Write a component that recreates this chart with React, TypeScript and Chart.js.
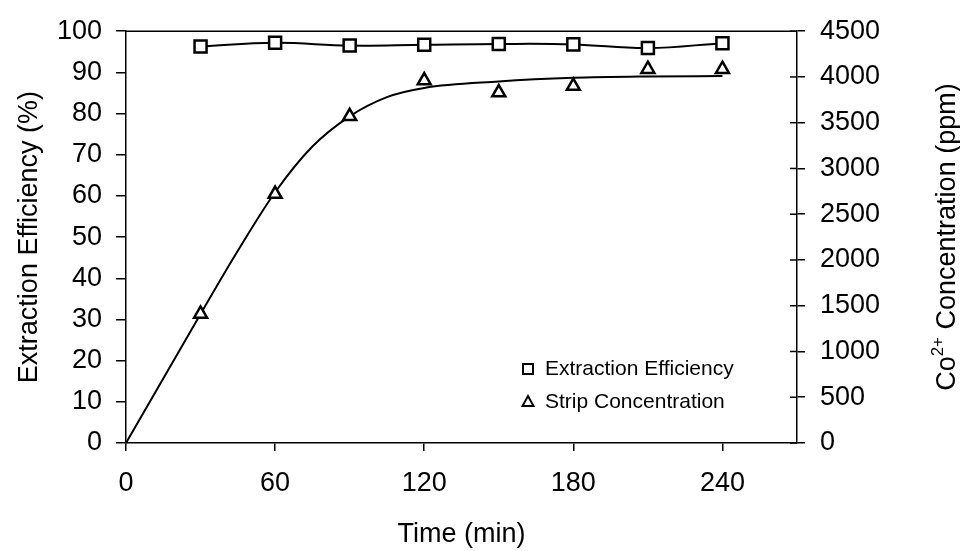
import React, { useEffect, useRef } from 'react';
import { Chart, registerables } from 'chart.js';

Chart.register(...registerables);

// ---- data ----
const timeMinutes = [30, 60, 90, 120, 150, 180, 210, 240];
const extractionEfficiency = [96.3, 97.2, 96.5, 96.7, 96.9, 96.8, 95.9, 97.1];
const stripConcentration = [1410, 2720, 3570, 3960, 3830, 3900, 4085, 4085];
const fitTimes = [0, 30, 45, 60, 75, 90, 105, 120, 150, 180, 210, 240];
const fitConcentration = [0, 1410, 2100, 2740, 3240, 3570, 3780, 3880, 3950, 3990, 4005, 4010];
const seriesLabels = ['Extraction Efficiency', 'Strip Concentration'];
const xTitle = 'Time (min)';
const leftTitle = 'Extraction Efficiency (%)';
const rightTitleParts = ['Co', '2+', ' Concentration (ppm)'];

const FONT = '"Liberation Sans", Arial, sans-serif';

const decorPlugin = {
  id: 'decor',
  afterDraw(chart: any) {
    const { ctx, chartArea } = chart;
    const y2 = chart.scales.y2;
    ctx.save();
    ctx.strokeStyle = '#000';
    ctx.lineWidth = 1.5;
    // top frame line
    ctx.beginPath();
    ctx.moveTo(chartArea.left, chartArea.top);
    ctx.lineTo(chartArea.right, chartArea.top);
    ctx.stroke();
    // right axis inner tick marks (ticks cross the axis)
    y2.ticks.forEach((t: any) => {
      const py = y2.getPixelForValue(t.value);
      ctx.beginPath();
      ctx.moveTo(chartArea.right - 7, py);
      ctx.lineTo(chartArea.right, py);
      ctx.stroke();
    });
    ctx.fillStyle = '#000';
    // x title
    ctx.font = `27px ${FONT}`;
    ctx.textAlign = 'center';
    ctx.textBaseline = 'middle';
    ctx.fillText(xTitle, (chartArea.left + chartArea.right) / 2, 535);
    // left title
    const midY = (chartArea.top + chartArea.bottom) / 2;
    ctx.save();
    ctx.translate(30, midY);
    ctx.rotate(-Math.PI / 2);
    ctx.fillText(leftTitle, 0, 0);
    ctx.restore();
    // right title with superscript
    ctx.save();
    ctx.translate(945, midY);
    ctx.rotate(-Math.PI / 2);
    const big = `27px ${FONT}`;
    const small = `17px ${FONT}`;
    ctx.font = big;
    const w0 = ctx.measureText(rightTitleParts[0]).width;
    const w2 = ctx.measureText(rightTitleParts[2]).width;
    ctx.font = small;
    const w1 = ctx.measureText(rightTitleParts[1]).width;
    const total = w0 + w1 + w2;
    let x = -total / 2;
    ctx.textAlign = 'left';
    ctx.textBaseline = 'alphabetic';
    ctx.font = big;
    ctx.fillText(rightTitleParts[0], x, 10);
    x += w0;
    ctx.font = small;
    ctx.fillText(rightTitleParts[1], x, -2);
    x += w1;
    ctx.font = big;
    ctx.fillText(rightTitleParts[2], x, 10);
    ctx.restore();
    // legend inside plot area
    const rows = [
      { label: seriesLabels[0], style: 'rect', y: 369 },
      { label: seriesLabels[1], style: 'triangle', y: 402 },
    ];
    ctx.font = `21px ${FONT}`;
    ctx.textAlign = 'left';
    ctx.textBaseline = 'middle';
    rows.forEach((r) => {
      ctx.lineWidth = 2;
      ctx.strokeStyle = '#000';
      ctx.fillStyle = '#fff';
      if (r.style === 'rect') {
        ctx.beginPath();
        ctx.rect(523, r.y - 5, 10, 10);
        ctx.fill();
        ctx.stroke();
      } else {
        ctx.beginPath();
        ctx.moveTo(528, r.y - 6);
        ctx.lineTo(533.5, r.y + 4);
        ctx.lineTo(522.5, r.y + 4);
        ctx.closePath();
        ctx.fill();
        ctx.stroke();
      }
      ctx.fillStyle = '#000';
      ctx.fillText(r.label, 545, r.y);
    });
    ctx.restore();
  },
};

export default function App() {
  const ref = useRef<HTMLCanvasElement | null>(null);
  useEffect(() => {
    if (!ref.current) return;
    const tickFont = { family: FONT, size: 27 };
    const plain = (v: any) => String(v);
    const chart = new Chart(ref.current, {
      type: 'scatter',
      data: {
        datasets: [
          {
            label: seriesLabels[0],
            data: timeMinutes.map((t, i) => ({ x: t, y: extractionEfficiency[i] })),
            yAxisID: 'y',
            showLine: true,
            tension: 0.4,
            borderColor: '#000',
            borderWidth: 2,
            pointStyle: 'rect',
            pointRadius: 8.5,
            pointBorderWidth: 2.5,
            pointBackgroundColor: '#fff',
            pointBorderColor: '#000',
            order: 0,
          },
          {
            label: seriesLabels[1],
            data: timeMinutes.map((t, i) => ({ x: t, y: stripConcentration[i] })),
            yAxisID: 'y2',
            showLine: false,
            pointStyle: 'triangle',
            pointRadius: 7.5,
            pointBorderWidth: 2.5,
            pointBackgroundColor: '#fff',
            pointBorderColor: '#000',
            order: 0,
          },
          {
            label: 'fit',
            data: fitTimes.map((t, i) => ({ x: t, y: fitConcentration[i] })),
            yAxisID: 'y2',
            showLine: true,
            cubicInterpolationMode: 'monotone',
            borderColor: '#000',
            borderWidth: 2,
            pointRadius: 0,
            order: 2,
          } as any,
        ],
      },
      options: {
        animation: false,
        responsive: false,
        events: [],
        layout: { padding: { top: 28, left: 0, right: 0, bottom: 0 } },
        plugins: { legend: { display: false }, tooltip: { enabled: false } },
        scales: {
          x: {
            type: 'linear',
            min: 0,
            max: 270,
            afterFit: (s: any) => { s.height = 108; },
            ticks: { stepSize: 60, includeBounds: false, font: tickFont, color: '#000', padding: 16, maxRotation: 0, callback: plain },
            grid: { drawOnChartArea: false, tickLength: 8, color: '#000', lineWidth: 1.5 },
            border: { color: '#000', width: 1.5 },
          },
          y: {
            position: 'left',
            min: 0,
            max: 100,
            afterFit: (s: any) => { s.width = 126; },
            ticks: { stepSize: 10, font: tickFont, color: '#000', padding: 14, callback: plain },
            grid: { drawOnChartArea: false, tickLength: 10, color: '#000', lineWidth: 1.5 },
            border: { color: '#000', width: 1.5 },
          },
          y2: {
            position: 'right',
            min: 0,
            max: 4500,
            afterFit: (s: any) => { s.width = 163; },
            ticks: { stepSize: 500, font: tickFont, color: '#000', padding: 15, callback: plain },
            grid: { drawOnChartArea: false, tickLength: 8, color: '#000', lineWidth: 1.5 },
            border: { color: '#000', width: 1.5 },
          },
        },
      } as any,
      plugins: [decorPlugin],
    });
    return () => chart.destroy();
  }, []);
  return (
    <div style={{ position: 'fixed', left: 0, top: 0, width: 960, height: 551, background: '#fff' }}>
      <canvas ref={ref} width={960} height={551} style={{ display: 'block', width: 960, height: 551 }} />
    </div>
  );
}
